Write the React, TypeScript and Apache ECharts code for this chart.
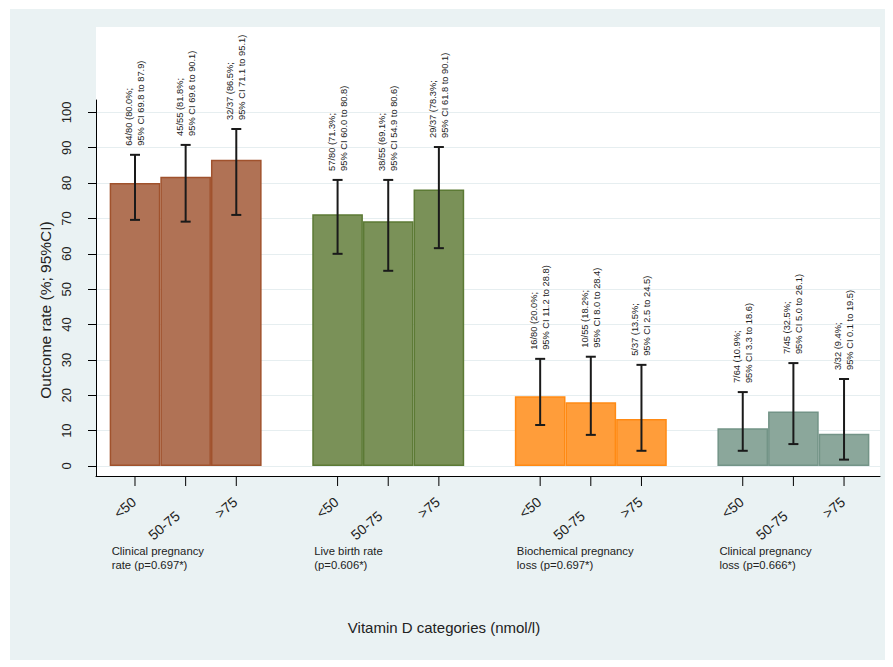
import React, { useEffect, useRef } from "react";
import * as echarts from "echarts";

const categories = ["<50", "50-75", ">75"];
const groupNames = [
  "Clinical pregnancy\nrate (p=0.697*)",
  "Live birth rate\n(p=0.606*)",
  "Biochemical pregnancy\nloss (p=0.697*)",
  "Clinical pregnancy\nloss (p=0.666*)",
];
const rates = [
  [80.0, 81.8, 86.6],
  [71.2, 69.2, 78.2],
  [19.7, 18.0, 13.3],
  [10.7, 15.4, 9.1],
];
const ciLow = [
  [69.6, 69.1, 71.0],
  [60.0, 55.2, 61.6],
  [11.6, 8.8, 4.3],
  [4.3, 6.2, 1.8],
];
const ciHigh = [
  [88.0, 90.8, 95.3],
  [80.9, 80.9, 90.2],
  [30.3, 30.9, 28.6],
  [20.9, 29.1, 24.6],
];
const barLabels = [
  ["64/80 (80.0%;\n95% CI 69.8 to 87.9)", "45/55 (81.8%;\n95% CI 69.6 to 90.1)", "32/37 (86.5%;\n95% CI 71.1 to 95.1)"],
  ["57/80 (71.3%;\n95% CI 60.0 to 80.8)", "38/55 (69.1%;\n95% CI 54.9 to 80.6)", "29/37 (78.3%;\n95% CI 61.8 to 90.1)"],
  ["16/80 (20.0%;\n95% CI 11.2 to 28.8)", "10/55 (18.2%;\n95% CI 8.0 to 28.4)", "5/37 (13.5%;\n95% CI 2.5 to 24.5)"],
  ["7/64 (10.9%;\n95% CI 3.3 to 18.6)", "7/45 (32.5%;\n95% CI 5.0 to 26.1)", "3/32 (9.4%;\n95% CI 0.1 to 19.5)"],
];
const yTicks = [0, 10, 20, 30, 40, 50, 60, 70, 80, 90, 100];
const xTitle = "Vitamin D categories (nmol/l)";
const yTitle = "Outcome rate (%; 95%CI)";

const fills = ["#b07255", "#7a9158", "#ff9d3a", "#8ba79b"];
const borders = ["#a0522d", "#5c7a35", "#ff8a14", "#739487"];
const FONT = "'Liberation Sans', Arial, sans-serif";
const Y_MIN = -2.83;
const Y_MAX = 103.5;

export default function App() {
  const ref = useRef<HTMLDivElement>(null);
  useEffect(() => {
    if (!ref.current) return;
    const chart = echarts.init(ref.current, null, { renderer: "svg" });

    const barData: any[] = [];
    const errData: any[] = [];
    rates.forEach((arr, g) => {
      arr.forEach((v, j) => {
        const x = g * 4 + j;
        barData.push({
          value: [x, v],
          itemStyle: { color: fills[g], borderColor: borders[g], borderWidth: 1.5 },
        });
        errData.push([x, ciLow[g][j], ciHigh[g][j], g, j]);
      });
    });

    const option: any = {
      animation: false,
      textStyle: { fontFamily: FONT },
      graphic: [
        { type: "rect", z: -10, shape: { x: 10, y: 9, width: 875, height: 651 }, style: { fill: "#eaf2f3" } },
        { type: "rect", z: -9, shape: { x: 96, y: 27, width: 784, height: 449 }, style: { fill: "#ffffff" } },
        {
          type: "text",
          x: 444,
          y: 627,
          style: { text: xTitle, font: `15px ${FONT}`, fill: "#222", align: "center", verticalAlign: "middle" },
        },
        {
          type: "text",
          x: 45,
          y: 310,
          rotation: Math.PI / 2,
          style: { text: yTitle, font: `15.5px ${FONT}`, fill: "#222", align: "center", verticalAlign: "middle" },
        },
      ],
      grid: { left: 96, right: 13, top: 100, bottom: 191, containLabel: false },
      xAxis: {
        type: "value",
        min: -0.77,
        max: 14.71,
        axisLine: { show: true, onZero: false, lineStyle: { color: "#000", width: 1 } },
        axisTick: { show: false },
        axisLabel: { show: false },
        splitLine: { show: false },
      },
      yAxis: {
        type: "value",
        min: Y_MIN,
        max: Y_MAX,
        axisLine: { show: true, onZero: false, lineStyle: { color: "#000", width: 1 } },
        axisTick: { show: true, length: 8, customValues: yTicks, lineStyle: { color: "#000" } },
        axisLabel: { customValues: yTicks, rotate: 90, margin: 23, fontSize: 13, color: "#222", fontFamily: FONT },
        splitLine: { show: true, lineStyle: { color: "#e6eef0", width: 1.2 } },
      },
      series: [
        {
          type: "bar",
          data: barData,
          barWidth: "100%",
        },
        {
          type: "custom",
          clip: false,
          encode: { x: 0, y: [1, 2] },
          data: errData,
          z: 5,
          renderItem: (params: any, api: any) => {
            const x = api.value(0);
            const lo = api.value(1);
            const hi = api.value(2);
            const g = api.value(3);
            const j = api.value(4);
            const pLo = api.coord([x, lo]);
            const pHi = api.coord([x, hi]);
            const axisY = api.coord([x, Y_MIN])[1];
            const cx = pLo[0];
            const cap = 5;
            const lineStyle = { stroke: "#1a1a1a", lineWidth: 2 };
            const children: any[] = [
              { type: "line", shape: { x1: cx, y1: pLo[1], x2: cx, y2: pHi[1] }, style: lineStyle },
              { type: "line", shape: { x1: cx - cap, y1: pLo[1], x2: cx + cap, y2: pLo[1] }, style: lineStyle },
              { type: "line", shape: { x1: cx - cap, y1: pHi[1], x2: cx + cap, y2: pHi[1] }, style: lineStyle },
              {
                type: "text",
                x: cx,
                y: pHi[1] - 9,
                rotation: Math.PI / 2,
                style: {
                  text: barLabels[g][j],
                  font: `9.3px ${FONT}`,
                  lineHeight: 12,
                  fill: "#222",
                  align: "left",
                  verticalAlign: "middle",
                },
              },
              { type: "line", shape: { x1: cx, y1: axisY, x2: cx, y2: axisY + 10 }, style: { stroke: "#000", lineWidth: 1 } },
              {
                type: "text",
                x: cx - 1 - (j === 1 ? 7 : 0),
                y: axisY + 24 + (j === 1 ? 14 : 0),
                rotation: (40 * Math.PI) / 180,
                style: {
                  text: categories[j],
                  font: `14px ${FONT}`,
                  fill: "#222",
                  align: "right",
                  verticalAlign: "middle",
                },
              },
            ];
            if (j === 0) {
              const left = api.coord([x - 0.5, Y_MIN])[0];
              children.push({
                type: "text",
                x: left + 2,
                y: axisY + 68,
                style: {
                  text: groupNames[g],
                  font: `11.3px ${FONT}`,
                  lineHeight: 14,
                  fill: "#222",
                  align: "left",
                  verticalAlign: "top",
                },
              });
            }
            return { type: "group", children };
          },
        },
      ],
    };
    chart.setOption(option);
    return () => chart.dispose();
  }, []);
  return <div ref={ref} style={{ position: "absolute", left: 0, top: 0, width: 893, height: 667 }} />;
}
